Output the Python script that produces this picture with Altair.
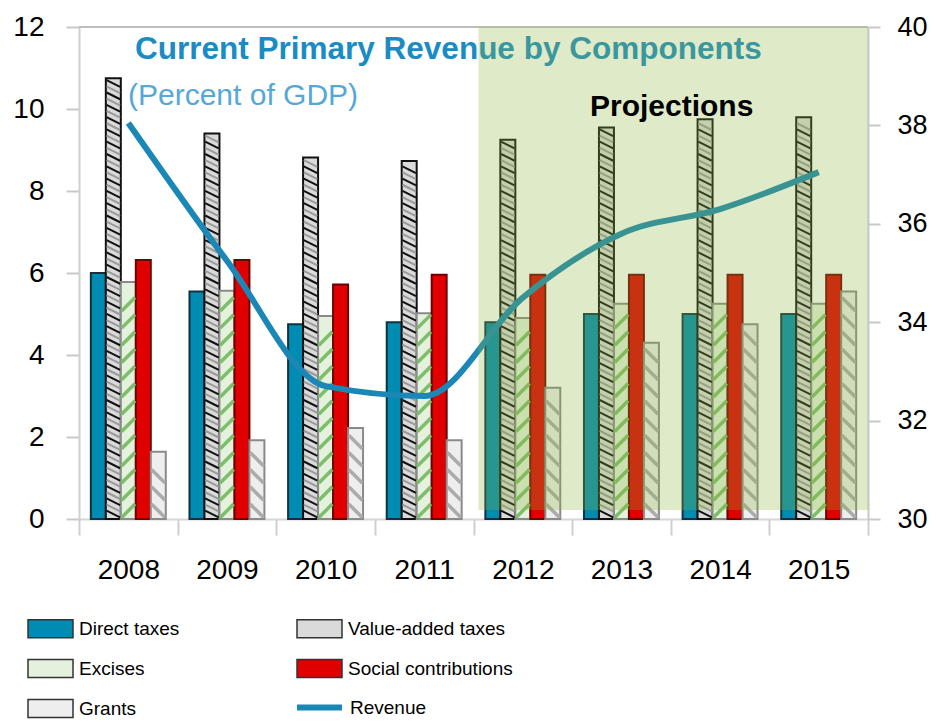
import altair as alt
import pandas as pd
import numpy as np

years = ["2008", "2009", "2010", "2011", "2012", "2013", "2014", "2015"]
series = ["Direct taxes", "Value-added taxes", "Excises", "Social contributions", "Grants"]
direct = [6.0, 5.55, 4.75, 4.8, 4.8, 5.0, 5.0, 5.0]
vat = [10.75, 9.4, 8.82, 8.73, 9.25, 9.55, 9.75, 9.8]
excises = [5.78, 5.57, 4.95, 5.02, 4.9, 5.25, 5.25, 5.25]
social = [6.32, 6.32, 5.72, 5.96, 5.96, 5.96, 5.96, 5.96]
grants = [1.64, 1.92, 2.22, 1.92, 3.2, 4.3, 4.75, 5.55]
revenue = [38.05, 35.25, 32.7, 32.5, 34.5, 35.8, 36.3, 37.05]
proj_years = ["2012", "2013", "2014", "2015"]
left_ticks = [0, 2, 4, 6, 8, 10, 12]
right_ticks = [30, 32, 34, 36, 38, 40]
# legend order (column-major fill, 2 columns)
legend_order = ["Direct taxes", "Excises", "Grants", "Value-added taxes", "Social contributions"]

title_txt = "Current Primary Revenue by Components"
subtitle_txt = "(Percent of GDP)"
proj_txt = "Projections"

fill_map = {"Direct taxes": "#008BB2", "Value-added taxes": "#DADADA", "Excises": "#E4F1DD",
            "Social contributions": "#E00000", "Grants": "#EEEEEE"}
stroke_map = {"Direct taxes": "#12323C", "Value-added taxes": "#111111", "Excises": "#8A8A8A",
              "Social contributions": "#6E0000", "Grants": "#8A8A8A"}

vals = {"Direct taxes": direct, "Value-added taxes": vat, "Excises": excises,
        "Social contributions": social, "Grants": grants}
bars_df = pd.DataFrame([{"year": y, "series": s, "value": v}
                        for s in series for y, v in zip(years, vals[s])])
rev_df = pd.DataFrame({"year": years, "revenue": revenue, "name": ["Revenue"] * len(years)})


def hatch(name, step, start, margin):
    rows = []
    for y, v in zip(years, vals[name]):
        for h in np.arange(start, v - margin, step):
            rows.append({"year": y, "series": name, "h": float(h)})
    return pd.DataFrame(rows)


LABEL_FONT = "Liberation Sans Narrow, Liberation Sans, Arial, sans-serif"
AX_FONT = "Liberation Sans, Arial, sans-serif"

xscale = alt.Scale(domain=years, paddingInner=0, paddingOuter=0)
yscale = alt.Scale(domain=[0, 12], nice=False, zero=True)
offscale = alt.Scale(domain=series, paddingInner=0, paddingOuter=0.79)

xaxis = alt.Axis(title=None, labelAngle=0, labelFontSize=28, labelFont=AX_FONT, labelColor="#000",
                 tickBand="extent", tickSize=16, tickWidth=2, tickColor="#CFCFCF",
                 domainColor="#D6D6D6", domainWidth=2, labelPadding=21)
yaxis = alt.Axis(title=None, values=left_ticks, labelFontSize=28, labelFont=AX_FONT, labelColor="#000",
                 tickSize=13, tickWidth=2, tickColor="#C8C8C8", domainColor="#D0D0D0",
                 domainWidth=2, labelPadding=22, grid=False)

top_rule = alt.Chart(pd.DataFrame({"v": [left_ticks[-1]]})).mark_rule(
    color="#BDBDBD", strokeWidth=2).encode(y=alt.Y("v:Q", scale=yscale, axis=yaxis))

bars = alt.Chart(bars_df).mark_bar(strokeWidth=2).encode(
    x=alt.X("year:N", scale=xscale, axis=xaxis),
    xOffset=alt.XOffset("series:N", scale=offscale),
    y=alt.Y("value:Q", scale=yscale, axis=yaxis),
    fill=alt.Fill("series:N", scale=alt.Scale(domain=legend_order, range=[fill_map[s] for s in legend_order]),
                  legend=alt.Legend(title=None, orient="none", legendX=-52, legendY=578, columns=2,
                                    symbolType="M-1,-0.4H1V0.4H-1Z", symbolSize=2025,
                                    symbolStrokeColor="#333333", symbolStrokeWidth=1.5,
                                    labelFontSize=19, labelFont=LABEL_FONT, labelColor="#000",
                                    labelOffset=5, rowPadding=4, columnPadding=114, padding=0,
                                    labelLimit=400)),
    stroke=alt.Stroke("series:N", scale=alt.Scale(domain=series, range=[stroke_map[s] for s in series]),
                      legend=None),
)


def hatch_layer(df, shape, color, width):
    return alt.Chart(df).mark_point(shape=shape, filled=False, size=225, strokeWidth=width,
                                    color=color, opacity=1).encode(
        x=alt.X("year:N", scale=xscale, axis=xaxis),
        xOffset=alt.XOffset("series:N", scale=offscale),
        y=alt.Y("h:Q", scale=yscale, axis=yaxis),
    )


vat_black = hatch_layer(hatch("Value-added taxes", 0.3, 0.12, 0.1), "M-0.9,-0.45L0.9,0.45", "#111111", 2)
vat_gray = hatch_layer(hatch("Value-added taxes", 0.3, 0.27, 0.1), "M-0.9,-0.45L0.9,0.45", "#9A9A9A", 2)
exc_h = hatch_layer(hatch("Excises", 0.42, 0.2, 0.18), "M-0.9,0.9L0.9,-0.9", "#7DBE6A", 3.5)
gr_h = hatch_layer(hatch("Grants", 0.42, 0.2, 0.18), "M-0.9,-0.9L0.9,0.9", "#ABABAB", 3.5)

left = alt.layer(top_rule, bars, vat_black, vat_gray, exc_h, gr_h)

raxis = alt.Axis(orient="right", title=None, values=right_ticks, labelFontSize=27, labelFont=AX_FONT,
                 labelColor="#000", tickSize=12, tickWidth=2, tickColor="#C8C8C8", labelAlign="left",
                 domainColor="#C8C8C8", domainWidth=2, labelPadding=17, grid=False)

line = alt.Chart(rev_df).mark_line(strokeWidth=6, interpolate="monotone").encode(
    x=alt.X("year:N", scale=xscale, axis=None),
    y=alt.Y("revenue:Q", scale=alt.Scale(domain=[right_ticks[0], right_ticks[-1]], nice=False, zero=False),
            axis=raxis),
    stroke=alt.Stroke("name:N", scale=alt.Scale(domain=["Revenue"], range=["#1A87B6"]),
                      legend=alt.Legend(title=None, orient="none", legendX=215, legendY=655,
                                        symbolType="stroke", symbolSize=2025, symbolStrokeWidth=6,
                                        symbolStrokeColor="#1A87B6",
                                        labelFontSize=19, labelFont=LABEL_FONT, labelColor="#000",
                                        labelOffset=5, padding=0)),
)

title = alt.Chart(pd.DataFrame({"t": [title_txt]})).mark_text(
    align="left", baseline="middle", fontSize=31.5, fontWeight="bold", color="#1A8CC4", font=AX_FONT
).encode(text="t:N", x=alt.value(56), y=alt.value(23))
subtitle = alt.Chart(pd.DataFrame({"t": [subtitle_txt]})).mark_text(
    align="left", baseline="middle", fontSize=30, color="#55A8D6", font=AX_FONT
).encode(text="t:N", x=alt.value(49), y=alt.value(69))

p0 = years.index(proj_years[0])
shade_df = pd.DataFrame({"x0": [p0 + 0.05], "x1": [len(years)], "y0": [0.22], "y1": [left_ticks[-1]]})
shade = alt.Chart(shade_df).mark_rect(color="#8DB33A", opacity=0.28).encode(
    x=alt.X("x0:Q", scale=alt.Scale(domain=[0, len(years)], nice=False, zero=False), axis=None),
    x2="x1:Q",
    y=alt.Y("y0:Q", scale=alt.Scale(domain=[0, 12], nice=False), axis=None),
    y2="y1:Q",
)

proj = alt.Chart(pd.DataFrame({"t": [proj_txt]})).mark_text(
    align="left", baseline="middle", fontSize=30, fontWeight="bold", color="#000", font=AX_FONT
).encode(text="t:N", x=alt.value(511), y=alt.value(80))

chart = alt.layer(left, line, title, subtitle, shade, proj).resolve_scale(
    y="independent", x="independent", stroke="independent"
).properties(
    width=789, height=492,
    autosize=alt.AutoSizeParams(type="none"),
    padding={"left": 71, "top": 19, "right": 60, "bottom": 200},
).configure_view(stroke=None)

chart.save("out.html", embed_options={"renderer": "svg", "actions": False})
